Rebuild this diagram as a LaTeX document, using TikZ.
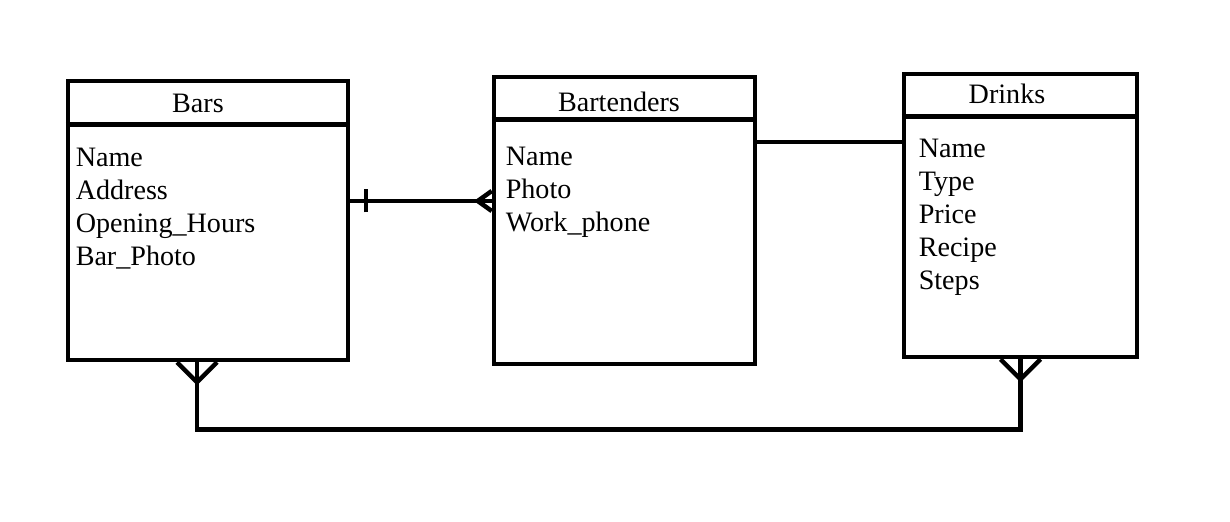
\documentclass[tikz,border=0pt]{standalone}
\usepackage{fontspec}
\setmainfont{Liberation Serif}
\usetikzlibrary{calc}

\begin{document}
\begin{tikzpicture}[line width=0.09cm]
\useasboundingbox (0,0) rectangle (24.6,10.42);
\begin{scope}[every node/.style={rectangle,draw,inner sep=0pt}]
\node[minimum width=5.6cm, minimum height=5.58cm] (bars) at (4.16,6.01) {};
\node[minimum width=5.22cm, minimum height=5.74cm] (bartenders) at (12.49,6.01) {};
\node[minimum width=4.66cm, minimum height=5.66cm] (drinks) at (20.41,6.11) {};
\end{scope}

% header lines
\draw ([yshift=-0.92cm]bars.north west) -- ([yshift=-0.92cm]bars.north east);
\draw ([yshift=-0.9cm]bartenders.north west) -- ([yshift=-0.9cm]bartenders.north east);
\draw ([yshift=-0.9cm]drinks.north west) -- ([yshift=-0.9cm]drinks.north east);

\begin{scope}[every node/.style={inner sep=0pt,font=\fontsize{16}{19}\selectfont}]
\node[anchor=base] (barstitle) at (3.96,8.16) {Bars};
\node[anchor=base] (bartenderstitle) at (12.38,8.18) {Bartenders};
\node[anchor=base] (drinkstitle) at (20.14,8.34) {Drinks};
\foreach \t [count=\i] in {Name,Address,Opening\_Hours,Bar\_Photo}
  \node[anchor=base west] (bars-\i) at (1.47,7.74-0.66*\i) {\t};
\foreach \t [count=\i] in {Name,Photo,Work\_phone}
  \node[anchor=base west] (bartenders-\i) at (10.07,7.76-0.66*\i) {\t};
\foreach \t [count=\i] in {Name,Type,Price,Recipe,Steps}
  \node[anchor=base west] (drinks-\i) at (18.33,7.92-0.66*\i) {\t};
\end{scope}

% bars -- bartenders
\draw ([yshift=0.39cm]bars.east) -- ([yshift=0.39cm]bartenders.west);
\draw ([shift={(0.31,0.16)}]bars.east) -- ([shift={(0.31,0.62)}]bars.east);
\draw ([yshift=0.59cm]bartenders.west) -- ([shift={(-0.28,0.39)}]bartenders.west)
  -- ([yshift=0.19cm]bartenders.west);

% bartenders -- drinks
\draw ([yshift=1.57cm]bartenders.east) -- ([yshift=1.47cm]drinks.west);

% bars -- drinks
\draw ([xshift=-0.22cm]bars.south) -- ++(0,-1.34) -| (drinks.south);
\draw ([xshift=-0.62cm]bars.south) -- ([shift={(-0.22,-0.4)}]bars.south)
  -- ([xshift=0.18cm]bars.south);
\draw ([xshift=-0.4cm]drinks.south) -- ([yshift=-0.4cm]drinks.south)
  -- ([xshift=0.4cm]drinks.south);
\end{tikzpicture}
\end{document}
